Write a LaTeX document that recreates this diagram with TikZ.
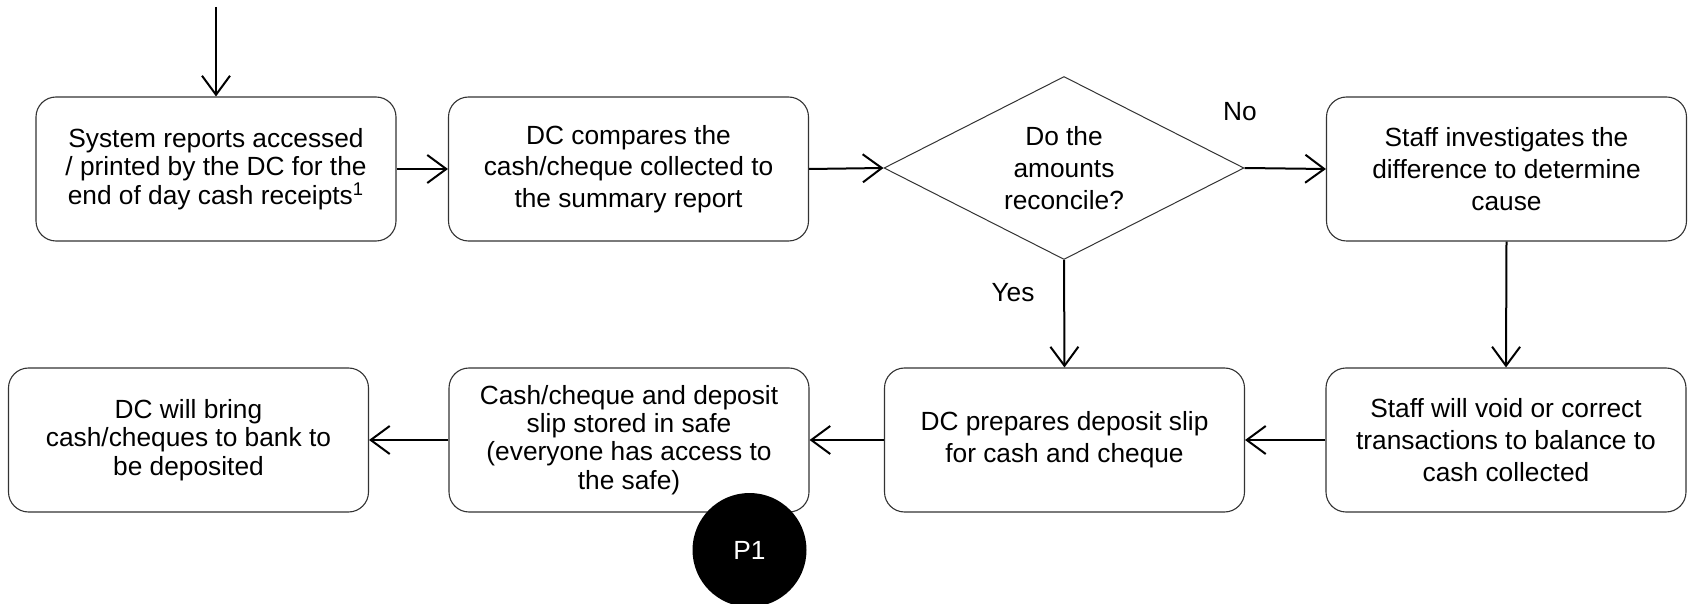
\documentclass[tikz,border=0pt]{standalone}
\usepackage{fontspec}
\setmainfont{Liberation Sans}
\usetikzlibrary{arrows.meta,shapes.geometric}

\tikzset{
  box/.style={draw=black!80, line width=0.55pt, rectangle, rounded corners=10pt,
    minimum width=180pt, minimum height=72pt, inner sep=0pt, align=center,
    font=\fontsize{13.15pt}{15.85pt}\selectfont},
  tightbox/.style={box, font=\fontsize{13.15pt}{14.15pt}\selectfont},
  decision/.style={draw=black!80, line width=0.5pt, diamond, aspect=2,
    minimum width=180pt, minimum height=91.5pt, inner sep=0pt, align=center,
    font=\fontsize{13.15pt}{15.85pt}\selectfont},
  lbl/.style={font=\fontsize{13.15pt}{15.85pt}\selectfont, inner sep=0pt},
  marker/.style={circle, fill=black, text=white, minimum size=57pt, inner sep=0pt,
    font=\fontsize{13.15pt}{15.85pt}\selectfont},
  arr/.style={-{Straight Barb[length=9.5pt,width=14pt]}, line width=1pt}
}

\begin{document}
\begin{tikzpicture}[x=0.5pt,y=-0.5pt]
\useasboundingbox (0,0) rectangle (1688,604);

% top row
\node[tightbox] (b1) at (216,169) {System reports accessed\\/ printed by the DC for the\\end of day cash receipts\textsuperscript{1}};
\node[box] (b2) at (628.5,169) {DC compares the\\cash/cheque collected to\\the summary report};
\node[decision] (dia) at (1064,168) {Do the\\amounts\\reconcile?};
\node[box] (b3) at (1506.5,169) {Staff investigates the\\difference to determine\\cause};

% bottom row
\node[tightbox] (b6) at (188.5,440) {DC will bring\\cash/cheques to bank to\\be deposited};
\node[tightbox] (b7) at (629,440) {Cash/cheque and deposit\\slip stored in safe\\(everyone has access to\\the safe)};
\node[box] (b4) at (1064.5,440) {DC prepares deposit slip\\for cash and cheque};
\node[box] (b5) at (1506,440) {Staff will void or correct\\transactions to balance to\\cash collected};

\node[marker] (p1) at (749.5,550) {P1};

% branch labels
\node[lbl] (no) at (1240,112) {No};
\node[lbl] (yes) at (1013,293) {Yes};

% connectors
\coordinate (start) at (216,7);
\draw[arr] (start) -- (b1.north);
\draw[arr] (b1.east) -- (b2.west);
\draw[arr] (b2.east) -- (dia.west);
\draw[arr] (dia.east) -- (b3.west);
\draw[arr] (dia.south) -- (b4.north);
\draw[arr] (b3.south) -- (b5.north);
\draw[arr] (b5.west) -- (b4.east);
\draw[arr] (b4.west) -- (b7.east);
\draw[arr] (b7.west) -- (b6.east);
\end{tikzpicture}
\end{document}
